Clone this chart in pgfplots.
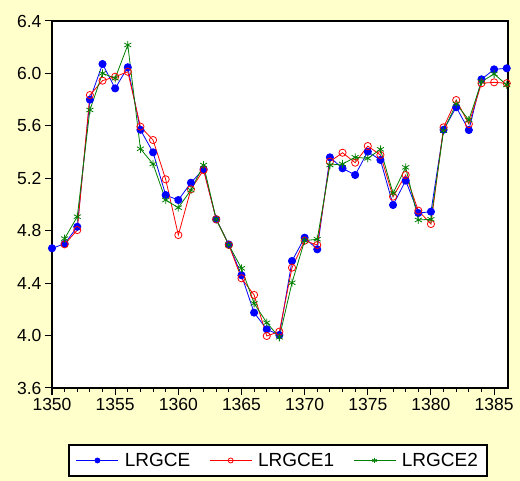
\documentclass[border=0pt]{standalone}
\usepackage{pgfplots}
\pgfplotsset{compat=1.18}
\usepackage{pgfplotstable}
\usepackage{fontspec}
\setmainfont{Liberation Sans}
\definecolor{bgyellow}{RGB}{255,255,204}
\definecolor{egreen}{RGB}{0,128,0}
\definecolor{eblue}{RGB}{0,0,255}
\definecolor{ered}{RGB}{255,0,0}
\pgfplotstableread{
year a b c
1350 4.666 nan nan
1351 4.700 4.696 4.740
1352 4.830 4.805 4.907
1353 5.800 5.835 5.721
1354 6.072 5.945 6.001
1355 5.886 5.975 5.963
1356 6.047 6.013 6.217
1357 5.570 5.594 5.425
1358 5.398 5.492 5.309
1359 5.072 5.192 5.034
1360 5.034 4.767 4.976
1361 5.166 5.116 5.110
1362 5.270 5.263 5.301
1363 4.887 4.887 4.887
1364 4.695 4.691 4.691
1365 4.460 4.437 4.513
1366 4.175 4.310 4.246
1367 4.048 3.997 4.098
1368 4.004 4.030 3.987
1369 4.569 4.518 4.403
1370 4.747 4.724 4.724
1371 4.658 4.691 4.735
1372 5.360 5.327 5.301
1373 5.276 5.395 5.309
1374 5.225 5.319 5.360
1375 5.403 5.446 5.352
1376 5.340 5.378 5.421
1377 4.996 5.060 5.085
1378 5.182 5.225 5.283
1379 4.935 4.953 4.882
1380 4.945 4.851 4.887
1381 5.570 5.589 5.563
1382 5.742 5.797 5.767
1383 5.568 5.614 5.645
1384 5.955 5.925 5.937
1385 6.031 5.932 5.996
1386 6.039 5.925 5.912
}\datatable
\begin{document}
\begin{tikzpicture}[x=1pt,y=1pt]
\fill[bgyellow] (0,0) rectangle (520,481);
\begin{axis}[
  at={(52pt,93pt)}, anchor=south west, scale only axis,
  width=456pt, height=367pt,
  xmin=1350, xmax=1386.1, ymin=3.6, ymax=6.4,
  xtick={1350,1355,1360,1365,1370,1375,1380,1385},
  minor x tick num=4,
  ytick={3.6,4.0,4.4,4.8,5.2,5.6,6.0,6.4},
  xtick pos=bottom, ytick pos=left,
  tick align=outside,
  major tick length=7pt, minor tick length=4pt,
  tick style={black, line width=1pt},
  axis line style={black, line width=1.4pt},
  axis background/.style={fill=white},
  x tick label style={/pgf/number format/1000 sep={}},
  y tick label style={/pgf/number format/.cd, fixed, fixed zerofill, precision=1},
  /pgf/number format/assume math mode=true,
  ticklabel style={font=\fontsize{17.5}{18}\selectfont},
  legend style={at={(0.4956,-0.1975)}, anchor=center, legend columns=3,
    draw=black, line width=1.3pt, fill=white,
    font=\fontsize{19}{19}\selectfont, inner xsep=7pt, inner ysep=6pt,
    /tikz/every odd column/.append style={column sep=4pt},
    /tikz/every even column/.append style={column sep=17pt}},
  legend image code/.code={\draw[line width=0.8pt, mark repeat=2, mark phase=2, mark size=2.5pt] plot coordinates {(0pt,0pt)(21pt,0pt)(42pt,0pt)};},
]
\addplot[eblue, line width=0.8pt, mark=*, mark size=3.6pt, mark options={fill=eblue}] table[x=year,y=a] {\datatable};
\addlegendentry{LRGCE}
\addplot[ered, line width=0.8pt, mark=o, mark size=3.6pt, mark options={fill=white}] table[x=year,y=b] {\datatable};
\addlegendentry{LRGCE1}
\addplot[egreen, line width=0.8pt, mark=asterisk, mark size=4pt] table[x=year,y=c] {\datatable};
\addlegendentry{LRGCE2}
\end{axis}
\end{tikzpicture}
\end{document}
